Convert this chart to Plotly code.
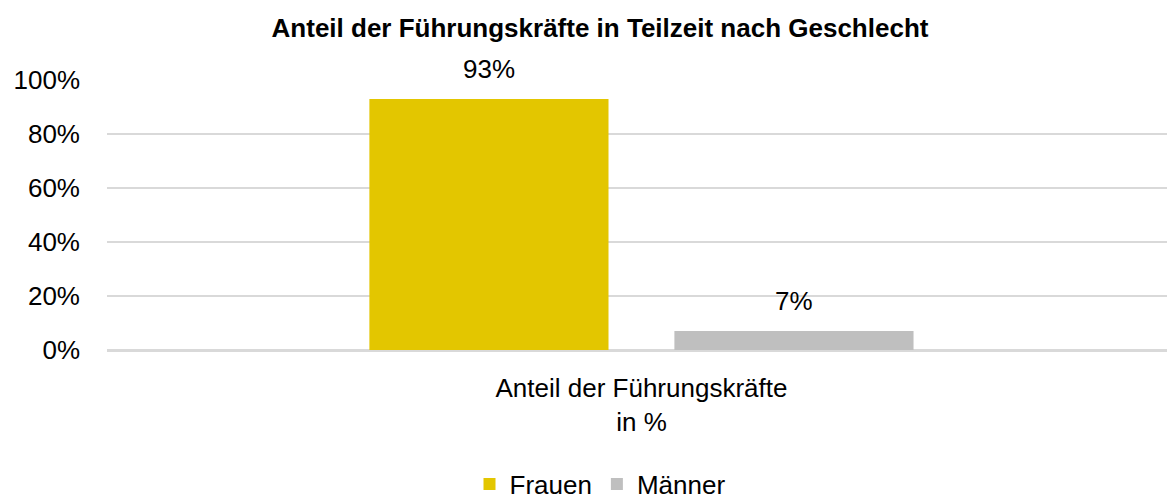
import plotly.graph_objects as go

categories = ["Anteil der Führungskräfte<br>in %"]
series_names = ["Frauen", "Männer"]
values_frauen = [93]
values_maenner = [7]
colors = ["#E3C600", "#BFBFBF"]
y_ticks = [0, 20, 40, 60, 80, 100]
y_tick_labels = ["0%", "20%", "40%", "60%", "80%", "100%"]
title = "<b>Anteil der Führungskräfte in Teilzeit nach Geschlecht</b>"

FONT = "Liberation Sans Narrow, Arial Narrow, Liberation Sans, Arial, sans-serif"
FS = 26

fig = go.Figure()
for i, (name, vals, col) in enumerate(zip(series_names, [values_frauen, values_maenner], colors)):
    fig.add_trace(go.Bar(
        name=name, x=categories, y=vals, marker=dict(color=col, line=dict(width=0)),
        offsetgroup=str(i),
    ))

# data labels above bars (positioned from data via axis scales)
bar_offsets = [-0.5, 0.5]
for off, vals in zip(bar_offsets, [values_frauen, values_maenner]):
    for v in vals:
        fig.add_annotation(
            x=0, y=v, xref="x", yref="y", text=f"{v}%", showarrow=False,
            xshift=off * 305, yshift=30, yanchor="middle",
            font=dict(size=FS, family=FONT, color="#000000"),
        )

fig.update_layout(
    width=1167, height=501,
    margin=dict(l=107, r=0, t=80, b=151, autoexpand=False),
    paper_bgcolor="white", plot_bgcolor="white",
    barmode="group", bargap=0.4245, bargroupgap=0.216,
    font=dict(family=FONT, size=FS, color="#000000"),
    title=dict(text=title, x=600 / 1167, xanchor="center", xref="container",
               y=1 - 28 / 501, yanchor="middle", yref="container",
               font=dict(size=FS, family=FONT, color="#000000")),
    showlegend=True,
    legend=dict(orientation="h", x=600 / 1167, xanchor="center", xref="container",
                y=1 - 484 / 501, yanchor="middle", yref="container",
                font=dict(size=FS, family=FONT), traceorder="normal",
                itemsizing="constant", itemwidth=30),
)
fig.update_yaxes(range=[0, 100], tickvals=y_ticks, ticktext=y_tick_labels,
                 showgrid=True, gridcolor="#D9D9D9", gridwidth=2,
                 zeroline=True, zerolinecolor="#D9D9D9", zerolinewidth=3,
                 showline=False, ticks="", ticklabelstandoff=26, automargin=False,
                 tickfont=dict(size=FS, family=FONT))
fig.update_xaxes(showline=False, ticks="", automargin=False, ticklabelstandoff=20,
                 range=[-0.5042, 0.4958],
                 tickfont=dict(size=FS, family=FONT))

fig.write_html("out.html", config={"displayModeBar": False},
               post_script="document.body.style.margin='0';")
